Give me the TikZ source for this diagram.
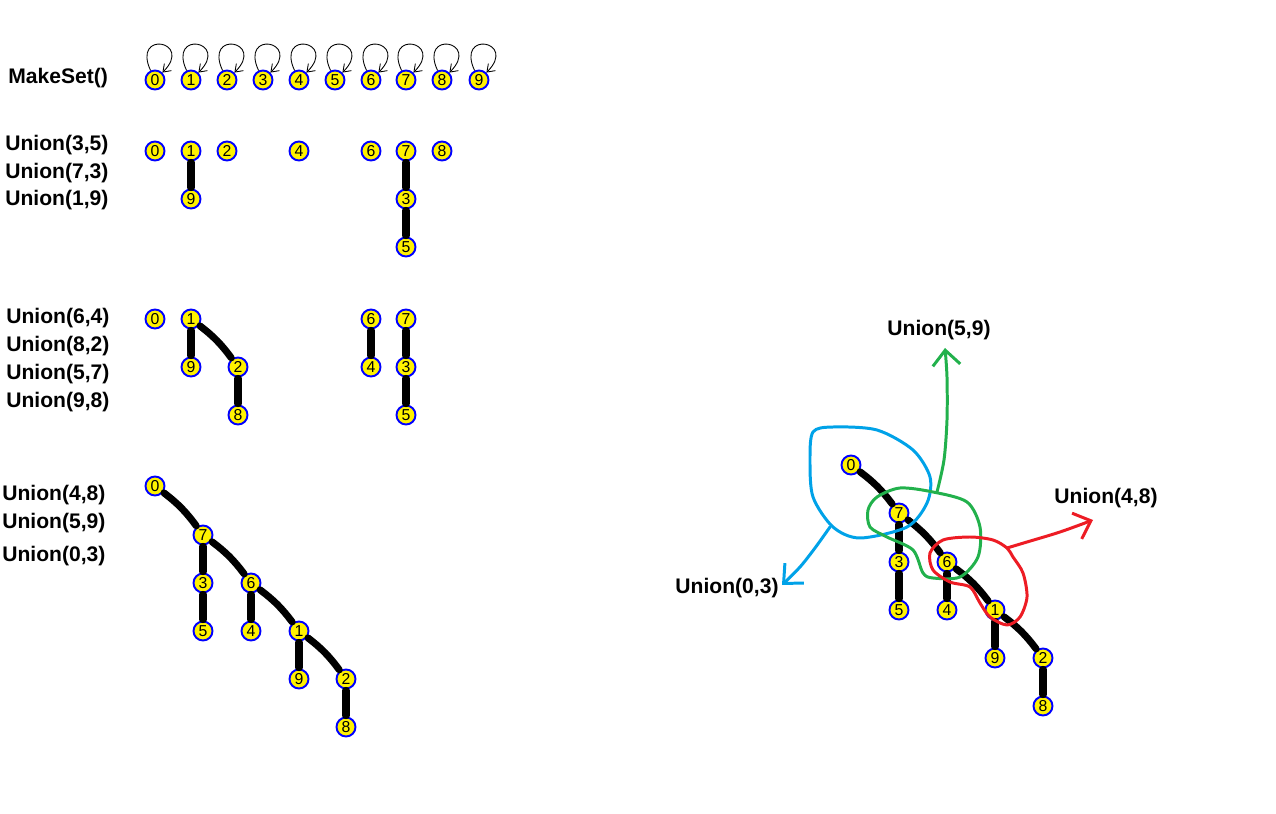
\documentclass[tikz,border=0pt]{standalone}
\usepackage{fontspec}
\setmainfont{Liberation Sans}
\usetikzlibrary{arrows.meta}
\definecolor{paintblue}{RGB}{0,162,232}
\definecolor{paintgreen}{RGB}{34,177,76}
\definecolor{paintred}{RGB}{237,28,36}
\tikzset{
    dsnode/.style={circle, draw=blue, fill=yellow, line width=1.1pt, inner sep=0pt,
        minimum size=0.38cm, font=\fontsize{9}{10}\selectfont},
    treeedge/.style={line width=4pt, line cap=round, shorten <=0.5pt, shorten >=0.5pt},
    selfloop/.style={-{Straight Barb[length=1.4mm,width=2mm]}, line width=0.5pt},
    oplabel/.style={font=\bfseries\fontsize{12}{14}\selectfont, inner sep=0pt},
    scribble/.style={line width=1.7pt, line cap=round, line join=round},
    scribblearrow/.style={scribble, -{Straight Barb[length=3mm,width=5.5mm]}}
}

\begin{document}
\begin{tikzpicture}[x=0.02cm, y=-0.02cm]
\useasboundingbox (0,0) rectangle (1276,814);

% MakeSet
\node[oplabel, anchor=west] (mk) at (8,78) {MakeSet()};
\foreach \i/\x in {0/155,1/191,2/227,3/263,4/299,5/335,6/371,7/406,8/442,9/479}
    \node[dsnode] (a\i) at (\x,80) {\i};
\foreach \i in {0,...,9}
    \draw[selfloop] (a\i) to[out=115,in=45,loop,min distance=9mm] (a\i);

% first three unions
\node[oplabel, anchor=west] (u35) at (5,145) {Union(3,5)};
\node[oplabel, anchor=west] (u73) at (5,173) {Union(7,3)};
\node[oplabel, anchor=west] (u19) at (5,200) {Union(1,9)};
\foreach \i/\x/\y in {0/155/151,1/191/151,2/227/151,4/299/151,6/371/151,7/406/151,8/442/151,
    9/191/199,3/406/199,5/406/247}
    \node[dsnode] (b\i) at (\x,\y) {\i};
\foreach \u/\v in {1/9,7/3,3/5}
    \draw[treeedge] (b\u) -- (b\v);

% next four unions
\node[oplabel, anchor=west] (u64) at (6,318) {Union(6,4)};
\node[oplabel, anchor=west] (u82) at (6,346) {Union(8,2)};
\node[oplabel, anchor=west] (u57) at (6,374) {Union(5,7)};
\node[oplabel, anchor=west] (u98) at (6,402) {Union(9,8)};
\foreach \i/\x/\y in {0/155/319,1/191/319,6/371/319,7/406/319,
    9/191/367,2/238/367,4/371/367,3/406/367,8/238/415,5/406/415}
    \node[dsnode] (c\i) at (\x,\y) {\i};
\foreach \u/\v/\b in {1/9/0,1/2/8,2/8/0,6/4/0,7/3/0,3/5/0}
    \draw[treeedge] (c\u) to[bend left=\b] (c\v);

% last three unions
\node[oplabel, anchor=west] (u48) at (2,495) {Union(4,8)};
\node[oplabel, anchor=west] (u59) at (2,523) {Union(5,9)};
\node[oplabel, anchor=west] (u03) at (2,556) {Union(0,3)};
\foreach \i/\x/\y in {0/155/486,7/203/535,3/203/583,6/251/583,5/203/631,
    4/251/631,1/299/631,9/299/679,2/346/679,8/346/727}
    \node[dsnode] (d\i) at (\x,\y) {\i};
\foreach \u/\v/\b in {0/7/8,7/3/0,7/6/8,3/5/0,6/4/0,6/1/8,1/9/0,1/2/8,2/8/0}
    \draw[treeedge] (d\u) to[bend left=\b] (d\v);

% annotated tree
\foreach \i/\x/\y in {0/851/465,7/899/513,3/899/562,6/947/562,5/899/610,
    4/947/610,1/995/610,9/995/658,2/1043/658,8/1043/706}
    \node[dsnode] (e\i) at (\x,\y) {\i};
\foreach \u/\v/\b in {0/7/8,7/3/0,7/6/8,3/5/0,6/4/0,6/1/8,1/9/0,1/2/8,2/8/0}
    \draw[treeedge] (e\u) to[bend left=\b] (e\v);

\node[oplabel] (l59) at (939,330) {Union(5,9)};
\node[oplabel] (l48) at (1106,498) {Union(4,8)};
\node[oplabel] (l03) at (727,588) {Union(0,3)};

\draw[scribble, paintblue] plot[smooth cycle] coordinates {(813,432) (833,427) (877,430)
    (913,450) (930,477) (927,503) (907,527) (860,538) (833,527) (813,497) (810,460)};
\draw[scribblearrow, paintblue] plot[smooth] coordinates {(830,527) (815,548) (800,567) (782,585)};

\draw[scribble, paintgreen] plot[smooth cycle] coordinates {(868,510) (877,497) (900,488)
    (933,492) (967,502) (980,527) (978,557) (960,577) (933,578) (923,573) (913,550)
    (887,537) (870,527)};
\draw[scribblearrow, paintgreen] plot[smooth] coordinates {(937,492) (944,460) (947,420) (947,377) (945,348)};

\draw[scribble, paintred] plot[smooth cycle] coordinates {(1007,548) (993,540) (970,537)
    (943,540) (930,553) (933,570) (950,582) (970,587) (980,603) (990,617) (1007,625)
    (1020,617) (1027,597) (1023,573) (1013,557)};
\draw[scribblearrow, paintred] plot[smooth] coordinates {(1007,548) (1027,542) (1060,532) (1093,520)};
\end{tikzpicture}
\end{document}
